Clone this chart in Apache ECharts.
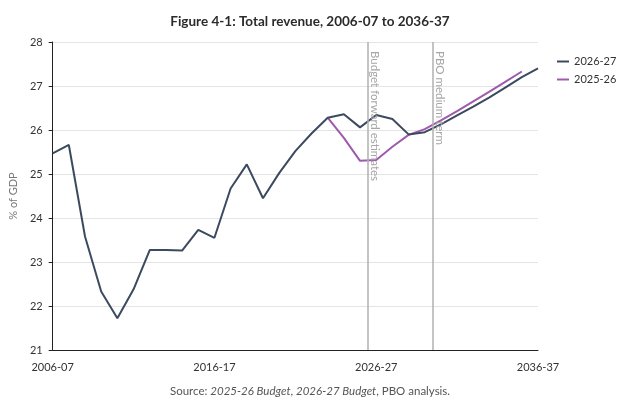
<!DOCTYPE html>
<html><head><meta charset="utf-8">
<script src="https://cdn.jsdelivr.net/npm/echarts@6/dist/echarts.min.js"></script>
<style>html,body{margin:0;padding:0;background:#fff}#c{width:620px;height:409px}</style>
</head><body><div id="c"></div>
<script>
var categories = ['2006-07','2007-08','2008-09','2009-10','2010-11','2011-12','2012-13','2013-14','2014-15','2015-16','2016-17','2017-18','2018-19','2019-20','2020-21','2021-22','2022-23','2023-24','2024-25','2025-26','2026-27','2027-28','2028-29','2029-30','2030-31','2031-32','2032-33','2033-34','2034-35','2035-36','2036-37'];
var series2026 = [25.47,25.66,23.58,22.33,21.72,22.38,23.27,23.27,23.26,23.73,23.55,24.67,25.22,24.45,25.02,25.52,25.92,26.28,26.36,26.06,26.34,26.25,25.90,25.95,26.13,26.33,26.53,26.74,26.97,27.20,27.40];
var series2025 = [null,null,null,null,null,null,null,null,null,null,null,null,null,null,null,null,null,26.28,25.82,25.30,25.32,25.62,25.89,26.02,26.22,26.43,26.65,26.87,27.10,27.33,null];
var xTickLabels = ['2006-07','2016-17','2026-27','2036-37'];
var markers = [{pos: 19.5, label: 'Budget forward estimates'}, {pos: 23.5, label: 'PBO medium term'}];

function pairs(arr){ var out=[]; for (var i=0;i<arr.length;i++){ if(arr[i]!==null) out.push([i, arr[i]]); } return out; }

var chart = echarts.init(document.getElementById('c'), null, {renderer:'canvas'});
var font = 'Lato, "Noto Sans", sans-serif';
var option = {
  animation: false,
  title: {
    text: 'Figure 4-1: Total revenue, 2006-07 to 2036-37',
    left: 'center', top: 10,
    textStyle: {fontFamily: font, fontWeight: 'bold', fontSize: 13.5, color: '#2b2b2b'}
  },
  legend: {
    orient: 'vertical', left: 552, top: 51, itemGap: 7,
    itemWidth: 12, itemHeight: 2, icon: 'rect',
    textStyle: {fontFamily: font, fontSize: 11, color: '#333'},
    data: ['2026-27','2025-26']
  },
  grid: {left: 46, right: 82, top: 42, bottom: 59},
  xAxis: {
    type: 'value', min: 0, max: 30, interval: 10,
    axisLine: {show: true, lineStyle: {color: '#222', width: 1}},
    axisTick: {show: false},
    splitLine: {show: false},
    axisLabel: {
      fontFamily: font, fontSize: 11, color: '#333', margin: 12,
      formatter: function(v){ return categories[v] || ''; }
    }
  },
  yAxis: {
    type: 'value', min: 21, max: 28, interval: 1,
    name: '% of GDP', nameLocation: 'middle', nameGap: 30,
    nameTextStyle: {fontFamily: font, fontSize: 11, color: '#777'},
    axisLine: {show: true, lineStyle: {color: '#222', width: 1}},
    axisTick: {show: true, length: 4, lineStyle: {color: '#222'}},
    splitLine: {show: true, lineStyle: {color: '#e4e4e4', width: 1}},
    axisLabel: {fontFamily: font, fontSize: 11, color: '#333', margin: 10}
  },
  series: [
    {
      name: '2026-27', type: 'line', data: pairs(series2026), symbol: 'none', z: 3,
      lineStyle: {color: '#3b4a5f', width: 2}, itemStyle: {color: '#3b4a5f'},
      markLine: {
        silent: true, symbol: 'none',
        lineStyle: {color: '#b0b0b0', width: 1.5, type: 'solid'},
        label: {show: false},
        data: markers.map(function(m){ return {xAxis: m.pos}; })
      }
    },
    {
      name: '2025-26', type: 'line', data: pairs(series2025), symbol: 'none', z: 2,
      lineStyle: {color: '#a05aad', width: 2}, itemStyle: {color: '#a05aad'}
    }
  ]
};
chart.setOption(option);

var g = [];
markers.forEach(function(m){
  var p = chart.convertToPixel({gridIndex: 0}, [m.pos, 28]);
  g.push({
    type: 'text', x: p[0] + 1, y: p[1] + 9, rotation: -Math.PI/2, silent: true, z: 10,
    style: {text: m.label, fontFamily: font, fontSize: 11.5, fill: '#a6a6a6', textAlign: 'left', textVerticalAlign: 'bottom'}
  });
});
g.push({
  type: 'text', left: 'center', top: 385, silent: true,
  style: {
    text: '{n|Source: }{i|2025-26 Budget}{n|, }{i|2026-27 Budget}{n|, PBO analysis.}',
    rich: {
      n: {fontFamily: font, fontSize: 11.5, fill: '#555', color: '#555'},
      i: {fontFamily: font, fontSize: 11.5, fontStyle: 'italic', fill: '#555', color: '#555'}
    }
  }
});
chart.setOption({graphic: g});
</script>
</body></html>
